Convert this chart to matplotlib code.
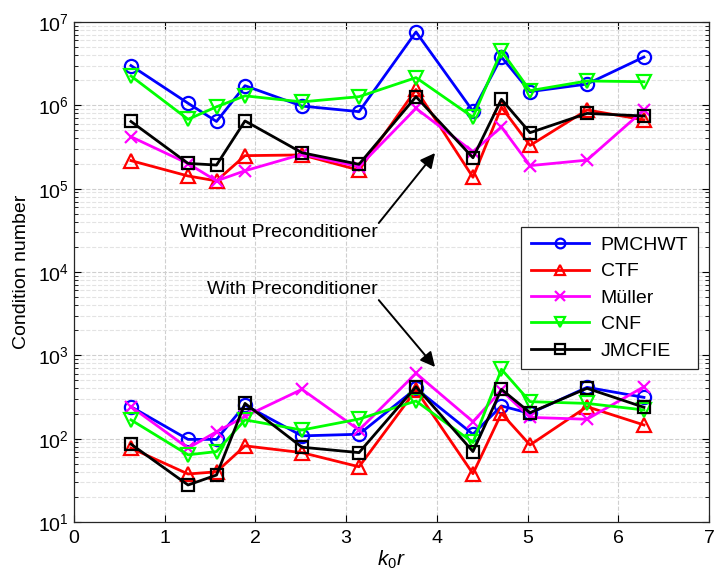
import numpy as np
import matplotlib
matplotlib.use("Agg")
import matplotlib.pyplot as plt
from matplotlib.ticker import LogLocator, NullFormatter

plt.rcParams['font.family'] = ['Liberation Sans', 'DejaVu Sans']
plt.rcParams['mathtext.fontset'] = 'custom'
plt.rcParams['mathtext.rm'] = 'Liberation Sans'
plt.rcParams['mathtext.it'] = 'Liberation Sans:italic'

# k0 r values (multiples of pi/5)
k0r = [0.628, 1.257, 1.571, 1.885, 2.513, 3.142, 3.770, 4.398, 4.712, 5.027, 5.655, 6.283]

# Without preconditioner
pmchwt_no = [3.0e6, 1.06e6, 6.4e5, 1.72e6, 9.8e5, 8.4e5, 7.6e6, 8.5e5, 3.8e6, 1.46e6, 1.8e6, 3.8e6]
ctf_no    = [2.17e5, 1.42e5, 1.24e5, 2.49e5, 2.54e5, 1.67e5, 1.55e6, 1.37e5, 9.5e5, 3.3e5, 8.8e5, 6.7e5]
muller_no = [4.2e5, 2.0e5, 1.24e5, 1.64e5, 2.58e5, 1.84e5, 9.2e5, 2.78e5, 5.5e5, 1.89e5, 2.2e5, 8.8e5]
cnf_no    = [2.25e6, 6.8e5, 9.6e5, 1.3e6, 1.1e6, 1.27e6, 2.15e6, 7.2e5, 4.5e6, 1.5e6, 1.96e6, 1.92e6]
jmcfie_no = [6.4e5, 2.01e5, 1.92e5, 6.5e5, 2.7e5, 1.96e5, 1.27e6, 2.35e5, 1.18e6, 4.7e5, 8.0e5, 7.45e5]

# With preconditioner
pmchwt_pc = [242, 98, 98, 253, 108, 113, 400, 113, 247, 201, 413, 313]
ctf_pc    = [77, 37.7, 40, 82, 68, 46, 384, 38, 201, 84, 242, 146]
muller_pc = [242, 77, 121, 185, 391, 127, 608, 160, 380, 180, 171, 420]
cnf_pc    = [168, 64, 70, 168, 127, 172, 283, 90, 680, 278, 265, 221]
jmcfie_pc = [86, 27.8, 36.6, 265, 79, 68, 420, 70, 391, 205, 402, 238]

labels = ['PMCHWT', 'CTF', 'Müller', 'CNF', 'JMCFIE']
colors = ['#0000ff', '#ff0000', '#ff00ff', '#00ff00', '#000000']
markers = ['o', '^', 'x', 'v', 's']
no_pc = [pmchwt_no, ctf_no, muller_no, cnf_no, jmcfie_no]
with_pc = [pmchwt_pc, ctf_pc, muller_pc, cnf_pc, jmcfie_pc]

fig = plt.figure(figsize=(7.14, 5.81), dpi=100)
ax = fig.add_axes([74/714, 59/581, 635/714, 500/581])

msizes = {'o': 9.5, '^': 9.5, 'x': 8, 'v': 9.5, 's': 8.5}
for lab, c, m, y1, y2 in zip(labels, colors, markers, no_pc, with_pc):
    kw = dict(color=c, marker=m, markersize=msizes[m], markerfacecolor='none',
              markeredgewidth=1.6, linewidth=2.0)
    ax.plot(k0r, y1, label=lab, **kw)
    ax.plot(k0r, y2, **kw)

ax.set_yscale('log')
ax.set_xlim(0, 7)
ax.set_ylim(1e1, 1e7)
ax.set_xticks(range(0, 8))
ax.yaxis.set_major_locator(LogLocator(base=10, numticks=10))
ax.yaxis.set_minor_locator(LogLocator(base=10, subs=np.arange(2, 10), numticks=100))
ax.yaxis.set_minor_formatter(NullFormatter())

ax.grid(True, which='major', linestyle='--', color='#cfcfcf', linewidth=0.8)
ax.grid(True, which='minor', axis='y', linestyle='--', color='#e3e3e3', linewidth=0.8)
ax.set_axisbelow(True)

ax.tick_params(which='both', direction='in', top=True, right=True, labelsize=14)
ax.tick_params(which='major', length=5)
ax.tick_params(which='minor', length=3)
ax.tick_params(axis='x', pad=6)
for sp in ax.spines.values():
    sp.set_linewidth(0.9)
    sp.set_color('#262626')

ax.set_xlabel(r'$k_0r$', fontsize=15, labelpad=1)
ax.set_ylabel('Condition number', fontsize=14, labelpad=6)

ax.annotate('', xy=(3.98, 2.68e5), xytext=(3.36, 3.87e4),
            arrowprops=dict(arrowstyle='-|>', color='black', lw=1.4, mutation_scale=22,
                            shrinkA=0, shrinkB=0))
ax.text(3.35, 2.94e4, 'Without Preconditioner', ha='right', va='center', fontsize=14)
ax.annotate('', xy=(3.98, 724), xytext=(3.36, 4.6e3),
            arrowprops=dict(arrowstyle='-|>', color='black', lw=1.4, mutation_scale=22,
                            shrinkA=0, shrinkB=0))
ax.text(3.35, 6.25e3, 'With Preconditioner', ha='right', va='center', fontsize=14)

leg = ax.legend(loc='upper right', bbox_to_anchor=(0.998, 0.61), fontsize=14,
                fancybox=False, edgecolor='#262626', framealpha=1,
                handlelength=3.0, labelspacing=0.45, borderpad=0.5, handletextpad=0.6)
leg.get_frame().set_linewidth(0.9)
for h in leg.legend_handles:
    h.set_markersize(7)

fig.savefig('out.png', dpi=100)
